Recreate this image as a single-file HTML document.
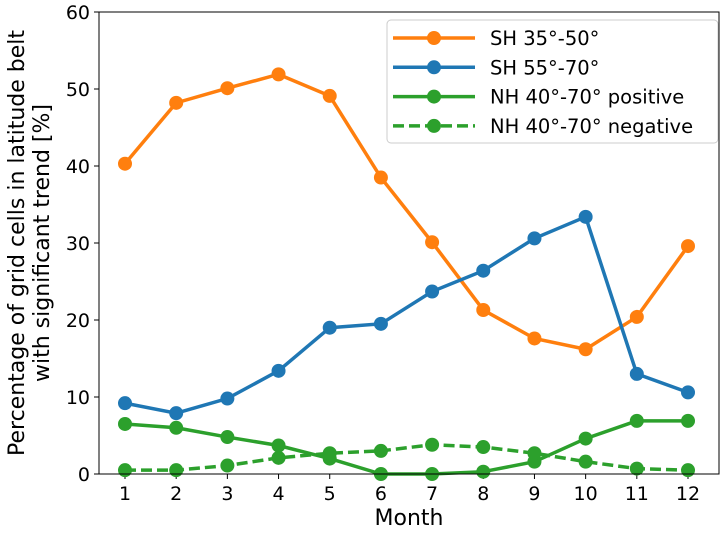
<!DOCTYPE html>
<html><head><meta charset="utf-8"><style>
body{margin:0;background:#fff}
svg text{font-family:"DejaVu Sans","Liberation Sans",sans-serif;fill:#000}
</style></head><body>
<svg id="chart" width="725" height="532"></svg>
<script>
const months=[1,2,3,4,5,6,7,8,9,10,11,12];
const sh3550=[40.3,48.2,50.1,51.9,49.1,38.5,30.1,21.3,17.6,16.2,20.4,29.6];
const sh5570=[9.2,7.9,9.8,13.4,19.0,19.5,23.7,26.4,30.6,33.4,13.0,10.6];
const nhPos=[6.5,6.0,4.8,3.7,2.0,0.0,0.0,0.3,1.6,4.6,6.9,6.9];
const nhNeg=[0.5,0.5,1.1,2.1,2.7,3.0,3.8,3.5,2.7,1.6,0.7,0.5];
const yTicks=[0,10,20,30,40,50,60];
const seriesNames=["SH 35°-50°","SH 55°-70°","NH 40°-70° positive","NH 40°-70° negative"];
const L=99,R=719,T=12,B=474;
const sx=v=>125+(v-1)/11*(688-125);
const sy=v=>B-v/60*(B-T);
const NS="http://www.w3.org/2000/svg";
const svg=document.getElementById('chart');
function mk(tag,attrs,parent){const e=document.createElementNS(NS,tag);for(const k in attrs)e.setAttribute(k,attrs[k]);(parent||svg).appendChild(e);return e;}
yTicks.forEach(v=>{
 const g=mk('g',{});
 
 
 mk('line',{x1:L-5,x2:L,y1:sy(v),y2:sy(v),stroke:'#000','stroke-width':1},g);
 const t=mk('text',{x:L-9,y:sy(v)+7,'text-anchor':'end','font-size':19},g);t.textContent=v;
});
months.forEach(m=>{
 const g=mk('g',{});
 
 
 mk('line',{x1:sx(m),x2:sx(m),y1:B,y2:B+5,stroke:'#000','stroke-width':1},g);
 const t=mk('text',{x:sx(m),y:B+26,'text-anchor':'middle','font-size':19},g);t.textContent=m;
});
const series=[[sh3550,'#ff7f0e',null],[sh5570,'#1f77b4',null],[nhPos,'#2ca02c',null],[nhNeg,'#2ca02c','11,5']];
series.forEach((s,i)=>{
 const g=mk('g',{});
 
 
 const p=mk('polyline',{points:s[0].map((v,j)=>sx(months[j])+','+sy(v)).join(' '),fill:'none',stroke:s[1],'stroke-width':3.5},g);
 if(s[2])p.setAttribute('stroke-dasharray',s[2]);
 s[0].forEach((v,j)=>{const c=mk('circle',{cx:sx(months[j]),cy:sy(v),r:7,fill:s[1]},g);
  
  });
});
const frame=mk('rect',{x:L,y:T,width:R-L,height:B-T,fill:'none',stroke:'#000','stroke-width':1});


const lg=mk('g',{});


mk('rect',{x:387,y:20,width:331,height:123,rx:4,fill:'#fff','fill-opacity':0.8,stroke:'#ccc'},lg);
series.forEach((s,i)=>{
 const y=38+i*29.3;
 const e=mk('g',{},lg);
 
 
 const l=mk('line',{x1:393,x2:475,y1:y,y2:y,stroke:s[1],'stroke-width':3.5},e);
 if(s[2])l.setAttribute('stroke-dasharray',s[2]);
 mk('circle',{cx:434,cy:y,r:7,fill:s[1]},e);
 const t=mk('text',{x:490,y:y+7,'font-size':19.5},e);t.textContent=seriesNames[i];
});
const xt=mk('text',{x:(L+R)/2,y:525,'text-anchor':'middle','font-size':22});xt.textContent='Month';

const yt=mk('g',{transform:'translate(24,243) rotate(-90)'});

const t1=mk('text',{x:0,y:0,'text-anchor':'middle','font-size':22},yt);t1.textContent='Percentage of grid cells in latitude belt';
const t2=mk('text',{x:0,y:25,'text-anchor':'middle','font-size':22},yt);t2.textContent='with significant trend [%]';
</script>
</body></html>
